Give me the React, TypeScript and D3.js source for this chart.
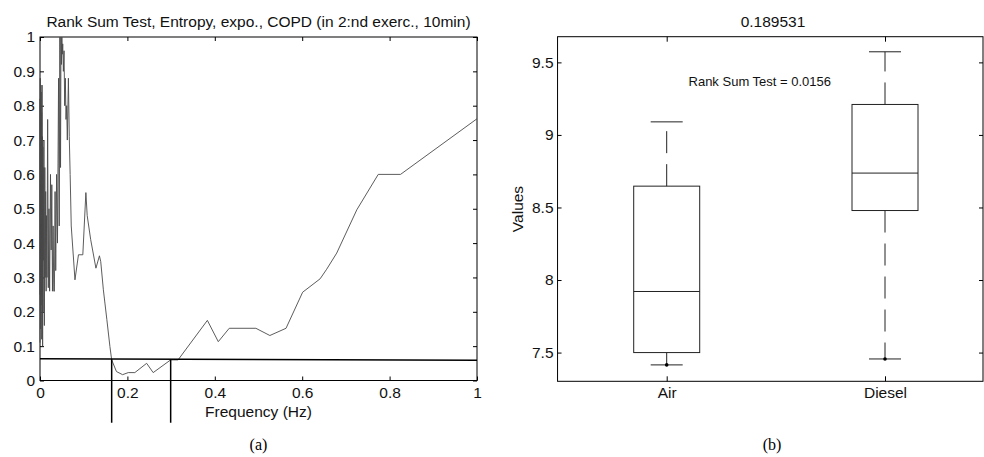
import React, { useEffect, useRef } from 'react'
import * as d3 from 'd3'

// left panel: p-value of rank sum test vs frequency
const freqs = [
  0, 0.00025, 0.0005, 0.00075, 0.001, 0.00125, 0.0015, 0.00175, 0.002, 0.00225,
  0.0025, 0.00275, 0.003, 0.00325, 0.0035, 0.00375, 0.004, 0.00425, 0.0045, 0.00475,
  0.005, 0.0055, 0.006, 0.0065, 0.007, 0.0075, 0.008, 0.009, 0.01, 0.011,
  0.012, 0.013, 0.014, 0.015, 0.016, 0.0175, 0.019, 0.0205, 0.022, 0.024,
  0.0255, 0.027, 0.0285, 0.03, 0.0315, 0.033, 0.0345, 0.036, 0.038, 0.04,
  0.0425, 0.044, 0.0455, 0.047, 0.048, 0.049, 0.05, 0.051, 0.052, 0.0535,
  0.055, 0.0565, 0.058, 0.0595, 0.061, 0.0625, 0.065, 0.067, 0.069, 0.0715,
  0.08, 0.088, 0.098, 0.105, 0.108, 0.116, 0.128, 0.136, 0.139, 0.145,
  0.153, 0.16, 0.164, 0.175, 0.189, 0.202, 0.217, 0.244, 0.259, 0.299,
  0.316, 0.383, 0.408, 0.433, 0.494, 0.526, 0.563, 0.601, 0.641, 0.656,
  0.679, 0.725, 0.774, 0.825, 1,
]
const pValues = [
  0.11, 0.82, 0.25, 0.88, 0.2, 0.8, 0.15, 0.86, 0.3, 0.72,
  0.22, 0.84, 0.3, 0.7, 0.26, 0.78, 0.12, 0.7, 0.28, 0.86,
  0.25, 0.71, 0.1, 0.68, 0.2, 0.62, 0.35, 0.7, 0.16, 0.62,
  0.3, 0.55, 0.26, 0.48, 0.3, 0.76, 0.27, 0.5, 0.26, 0.6,
  0.38, 0.57, 0.26, 0.45, 0.26, 0.26, 0.55, 0.32, 0.6, 0.4,
  0.88, 0.45, 1, 0.62, 1, 0.92, 1, 0.95, 0.98, 0.9,
  0.96, 0.8, 0.88, 0.76, 0.8, 0.7, 0.88, 0.71, 0.6, 0.45,
  0.293, 0.366, 0.366, 0.547, 0.48, 0.41, 0.327, 0.363, 0.346, 0.264,
  0.177, 0.099, 0.06, 0.026, 0.017, 0.023, 0.023, 0.05, 0.023, 0.06,
  0.06, 0.175, 0.113, 0.152, 0.152, 0.131, 0.152, 0.257, 0.296, 0.324,
  0.371, 0.497, 0.6, 0.6, 0.762,
]
const pTicks = [0, 0.1, 0.2, 0.3, 0.4, 0.5, 0.6, 0.7, 0.8, 0.9, 1]
const freqTicks = [0, 0.2, 0.4, 0.6, 0.8, 1]
const thresholdFreqs = [0, 1]
const thresholdP = [0.063, 0.059]
const crossingFreqs = [0.164, 0.299]
const crossingBottom = -0.123

// right panel: boxplot
const groups = ['Air', 'Diesel']
const whiskerHigh = [9.09, 9.573]
const quart3 = [8.647, 9.21]
const medians = [7.921, 8.737]
const quart1 = [7.5, 8.479]
const whiskerLow = [7.415, 7.456]
const valueTicks = [7.5, 8, 8.5, 9, 9.5]

const fmt = d3.format('~g')

function App() {
  const svgRef = useRef(null)

  useEffect(() => {
    const svg = d3.select(svgRef.current)
    svg.selectAll('*').remove()

    // ---------- left ----------
    const x = d3.scaleLinear().domain([0, 1]).range([40, 477])
    const y = d3.scaleLinear().domain([0, 1]).range([380.5, 37])
    const left = svg.append('g')

    const fixAxis = (g) => {
      g.attr('font-size', null).attr('font-family', null)
      g.select('.domain').remove()
      g.selectAll('text').attr('fill', '#111')
    }

    left.append('g')
      .attr('transform', `translate(0,${y(0)})`)
      .call(d3.axisBottom(x).tickValues(freqTicks).tickSizeInner(-4).tickSizeOuter(0).tickPadding(6).tickFormat(fmt))
      .call(fixAxis)
    left.append('g')
      .attr('transform', `translate(0,${y(1)})`)
      .call(d3.axisTop(x).tickValues(freqTicks).tickSizeInner(-4).tickSizeOuter(0).tickFormat(() => ''))
      .call(fixAxis)
    left.append('g')
      .attr('transform', `translate(${x(0)},0)`)
      .call(d3.axisLeft(y).tickValues(pTicks).tickSizeInner(-4).tickSizeOuter(0).tickPadding(5).tickFormat(fmt))
      .call(fixAxis)
    left.append('g')
      .attr('transform', `translate(${x(1)},0)`)
      .call(d3.axisRight(y).tickValues(pTicks).tickSizeInner(-4).tickSizeOuter(0).tickFormat(() => ''))
      .call(fixAxis)

    left.append('rect')
      .attr('x', x(0)).attr('y', y(1))
      .attr('width', x(1) - x(0)).attr('height', y(0) - y(1))
      .attr('fill', 'none').attr('stroke', '#000').attr('stroke-width', 1)

    const curve = d3.line().x((d) => x(d[0])).y((d) => y(d[1]))
    left.append('path')
      .attr('d', curve(freqs.map((f, i) => [f, pValues[i]])))
      .attr('fill', 'none').attr('stroke', '#4a4a4a').attr('stroke-width', 0.9)

    left.append('path')
      .attr('d', curve(thresholdFreqs.map((f, i) => [f, thresholdP[i]])))
      .attr('fill', 'none').attr('stroke', '#000').attr('stroke-width', 1.5)

    const thrAt = d3.scaleLinear().domain(thresholdFreqs).range(thresholdP)
    left.selectAll('.cross').data(crossingFreqs).join('line')
      .attr('x1', (d) => x(d)).attr('x2', (d) => x(d))
      .attr('y1', (d) => y(thrAt(d))).attr('y2', y(crossingBottom))
      .attr('stroke', '#000').attr('stroke-width', 1.5)

    left.append('text')
      .attr('x', (x(0) + x(1)) / 2).attr('y', 26.5)
      .attr('text-anchor', 'middle').attr('fill', '#111')
      .text('Rank Sum Test, Entropy, expo., COPD (in 2:nd exerc., 10min)')
    left.append('text')
      .attr('x', (x(0) + x(1)) / 2).attr('y', 417)
      .attr('text-anchor', 'middle').attr('fill', '#111')
      .text('Frequency (Hz)')

    // ---------- right ----------
    const xb = d3.scaleLinear().domain([1, 2]).range([666.7, 885])
    const yb = d3.scaleLinear().domain([7.302, 9.677]).range([381.3, 36.7])
    const right = svg.append('g')
    const frameL = xb(0.5)
    const frameR = 983

    right.append('g')
      .attr('transform', `translate(0,${yb.range()[0]})`)
      .call(d3.axisBottom(xb).tickValues([1, 2]).tickSizeInner(-5).tickSizeOuter(0).tickPadding(6).tickFormat((d) => groups[d - 1]))
      .call(fixAxis)
    right.append('g')
      .attr('transform', `translate(0,${yb.range()[1]})`)
      .call(d3.axisTop(xb).tickValues([1, 2]).tickSizeInner(-5).tickSizeOuter(0).tickFormat(() => ''))
      .call(fixAxis)
    right.append('g')
      .attr('transform', `translate(${frameL},0)`)
      .call(d3.axisLeft(yb).tickValues(valueTicks).tickSizeInner(-4).tickSizeOuter(0).tickPadding(4).tickFormat(fmt))
      .call(fixAxis)
    right.append('g')
      .attr('transform', `translate(${frameR},0)`)
      .call(d3.axisRight(yb).tickValues(valueTicks).tickSizeInner(-4).tickSizeOuter(0).tickFormat(() => ''))
      .call(fixAxis)

    right.append('rect')
      .attr('x', frameL).attr('y', yb.range()[1])
      .attr('width', frameR - frameL).attr('height', yb.range()[0] - yb.range()[1])
      .attr('fill', 'none').attr('stroke', '#000').attr('stroke-width', 1)

    const boxHalf = 33
    const capHalf = 16
    const box = right.selectAll('.box').data(groups).join('g')

    box.append('line') // upper whisker
      .attr('x1', (d, i) => xb(i + 1)).attr('x2', (d, i) => xb(i + 1))
      .attr('y1', (d, i) => yb(quart3[i])).attr('y2', (d, i) => yb(whiskerHigh[i]))
      .attr('stroke', '#222').attr('stroke-dasharray', '22 11')
    box.append('line') // lower whisker
      .attr('x1', (d, i) => xb(i + 1)).attr('x2', (d, i) => xb(i + 1))
      .attr('y1', (d, i) => yb(quart1[i])).attr('y2', (d, i) => yb(whiskerLow[i]))
      .attr('stroke', '#222').attr('stroke-dasharray', '22 11')
    box.append('line')
      .attr('x1', (d, i) => xb(i + 1) - capHalf).attr('x2', (d, i) => xb(i + 1) + capHalf)
      .attr('y1', (d, i) => yb(whiskerHigh[i])).attr('y2', (d, i) => yb(whiskerHigh[i]))
      .attr('stroke', '#222')
    box.append('line')
      .attr('x1', (d, i) => xb(i + 1) - capHalf).attr('x2', (d, i) => xb(i + 1) + capHalf)
      .attr('y1', (d, i) => yb(whiskerLow[i])).attr('y2', (d, i) => yb(whiskerLow[i]))
      .attr('stroke', '#222')
    box.append('rect')
      .attr('x', (d, i) => xb(i + 1) - boxHalf).attr('width', boxHalf * 2)
      .attr('y', (d, i) => yb(quart3[i])).attr('height', (d, i) => yb(quart1[i]) - yb(quart3[i]))
      .attr('fill', 'none').attr('stroke', '#222')
    box.append('line')
      .attr('x1', (d, i) => xb(i + 1) - boxHalf).attr('x2', (d, i) => xb(i + 1) + boxHalf)
      .attr('y1', (d, i) => yb(medians[i])).attr('y2', (d, i) => yb(medians[i]))
      .attr('stroke', '#222')
    box.append('circle')
      .attr('cx', (d, i) => xb(i + 1)).attr('cy', (d, i) => yb(whiskerLow[i]))
      .attr('r', 1.8).attr('fill', '#000')

    right.append('text')
      .attr('x', xb(1.1)).attr('y', yb(9.336))
      .attr('font-size', 13).attr('fill', '#111')
      .text('Rank Sum Test = 0.0156')
    right.append('text')
      .attr('x', 773).attr('y', 26.5)
      .attr('text-anchor', 'middle').attr('fill', '#111')
      .text('0.189531')
    right.append('text')
      .attr('transform', `translate(523,${(yb.range()[0] + yb.range()[1]) / 2}) rotate(-90)`)
      .attr('text-anchor', 'middle').attr('fill', '#111')
      .text('Values')

    // captions
    svg.append('text')
      .attr('x', (x(0) + x(1)) / 2).attr('y', 450)
      .attr('text-anchor', 'middle').attr('font-family', '"Liberation Serif", "Times New Roman", serif')
      .attr('font-size', 16).text('(a)')
    svg.append('text')
      .attr('x', 772).attr('y', 450)
      .attr('text-anchor', 'middle').attr('font-family', '"Liberation Serif", "Times New Roman", serif')
      .attr('font-size', 16).text('(b)')
  }, [])

  return (
    <svg
      ref={svgRef}
      width={984}
      height={457}
      style={{ position: 'absolute', left: 0, top: 0, background: '#fff' }}
      fontFamily='"Liberation Sans", Arial, sans-serif'
      fontSize={15.5}
    />
  )
}

export default App
